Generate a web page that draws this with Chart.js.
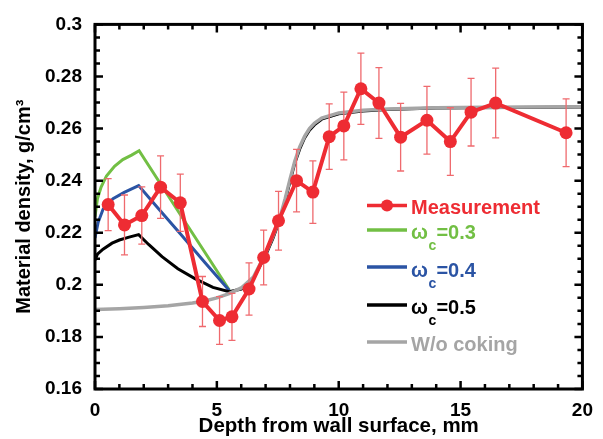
<!DOCTYPE html>
<html><head><meta charset="utf-8">
<script src="https://cdn.jsdelivr.net/npm/chart.js@4/dist/chart.umd.min.js"></script>
<style>html,body{margin:0;padding:0;background:#fff}canvas{display:block}</style>
</head><body>
<canvas id="c" width="603" height="439"></canvas>
<script>
// ---- data ----
const measDepth   = [0.54,1.21,1.92,2.69,3.5,4.41,5.11,5.62,6.32,6.92,7.53,8.27,8.94,9.61,10.21,10.91,11.65,12.54,13.62,14.58,15.43,16.44,19.33];
const measDensity = [0.2308,0.2230,0.2266,0.2375,0.2315,0.1936,0.1863,0.1877,0.1984,0.2105,0.2246,0.2400,0.2356,0.2569,0.2610,0.2753,0.2698,0.2567,0.2632,0.2550,0.2663,0.2698,0.2584];
const measError   = [0.010,0.0115,0.011,0.012,0.011,0.0096,0.0092,0.009,0.010,0.0105,0.0113,0.012,0.012,0.0126,0.013,0.0137,0.0136,0.013,0.013,0.013,0.013,0.0134,0.013];

const w03Depth   = [0,0.1,0.25,0.47,0.8,1.14,1.5,1.81,2.5,3.5,4.5,5.51];
const w03Density = [0.2262,0.2330,0.2375,0.2418,0.2455,0.2481,0.2498,0.2515,0.2415,0.2270,0.2126,0.1980];

const w04Depth   = [0,0.13,0.33,0.74,1.2,1.79,2.5,3.5,4.5,5.51];
const w04Density = [0.2180,0.2240,0.2290,0.2331,0.2355,0.2381,0.2304,0.2196,0.2087,0.1978];

const w05Depth   = [0,0.1,0.33,0.7,1.0,1.4,1.79,2.2,2.75,3.4,4.1,4.84,5.51,6.0,6.5,7.0,7.3,7.6,7.8,8.0,8.2,8.4,8.6,8.8,9.0,9.3,10,11,12,14,20];
const w05Density = [0.2095,0.2118,0.2137,0.2160,0.2172,0.2183,0.2193,0.2155,0.2108,0.2062,0.2024,0.1990,0.1974,0.1984,0.2025,0.2113,0.2178,0.2255,0.2322,0.2396,0.2468,0.2522,0.2564,0.2594,0.2614,0.2636,0.2657,0.2667,0.2673,0.2679,0.2683];

const noCokeDepth   = [0,1,2,3,4,4.5,5,5.5,6,6.5,7,7.3,7.6,7.8,8,8.2,8.4,8.6,8.8,9.0,9.3,10,11,12,14,16,18,20];
const noCokeDensity = [0.1905,0.1908,0.1913,0.1920,0.1930,0.1938,0.1950,0.1966,0.1988,0.2030,0.2120,0.2185,0.2262,0.2330,0.2405,0.2475,0.2530,0.2570,0.2600,0.2620,0.2640,0.2660,0.2670,0.2675,0.2680,0.2682,0.2683,0.2684];

const xTicks = [0,5,10,15,20];
const yTicks = [0.16,0.18,0.2,0.22,0.24,0.26,0.28,0.3];

const seriesNames = ['Measurement','ωc=0.3','ωc=0.4','ωc=0.5','W/o coking'];
const RED='#EE2C33', GREEN='#72BF44', BLUE='#2B54A4', BLACK='#000000', GREY='#A5A5A5';

const FONT = '"Liberation Sans", Arial, sans-serif';
Chart.defaults.font.family = FONT;
Chart.defaults.color = '#000';

const pts = (xs, ys) => xs.map((x,i)=>({x, y: ys[i]}));

const errorBars = {
  id:'errorBars',
  beforeDatasetDraw(chart, args){
    if (args.index !== 0) return;
    const {ctx, scales:{x, y}} = chart;
    ctx.save();
    ctx.strokeStyle = '#EF6A6E';
    ctx.lineWidth = 1.3;
    measDepth.forEach((d,i)=>{
      const px = x.getPixelForValue(d);
      const t = y.getPixelForValue(measDensity[i] + measError[i]);
      const b = y.getPixelForValue(measDensity[i] - measError[i]);
      ctx.beginPath();
      ctx.moveTo(px, t); ctx.lineTo(px, b);
      ctx.moveTo(px-3.5, t); ctx.lineTo(px+3.5, t);
      ctx.moveTo(px-3.5, b); ctx.lineTo(px+3.5, b);
      ctx.stroke();
    });
    ctx.restore();
  }
};

const frameTicks = {
  id:'frameTicks',
  afterDraw(chart){
    const {ctx, chartArea:a, scales:{x, y}} = chart;
    ctx.save();
    ctx.strokeStyle = '#000';
    ctx.lineWidth = 2.5;
    ctx.beginPath();
    for (let v = 0; v <= 20; v += 1) {
      const px = x.getPixelForValue(v);
      const L = (v % 5 === 0) ? 8 : 5;
      ctx.moveTo(px, a.bottom); ctx.lineTo(px, a.bottom - L);
      ctx.moveTo(px, a.top); ctx.lineTo(px, a.top + L);
    }
    for (let k = 0; k <= 28; k++) {
      const v = 0.16 + k * 0.005;
      const py = y.getPixelForValue(v);
      const L = (k % 4 === 0) ? 8 : 5;
      ctx.moveTo(a.left, py); ctx.lineTo(a.left + L, py);
      ctx.moveTo(a.right, py); ctx.lineTo(a.right - L, py);
    }
    ctx.stroke();
    ctx.lineWidth = 3;
    ctx.strokeRect(a.left, a.top, a.right - a.left, a.bottom - a.top);
    ctx.restore();
  }
};

const customLegend = {
  id:'customLegend',
  afterDraw(chart){
    const ctx = chart.ctx;
    ctx.save();
    const x0 = 367, x1 = 407, tx = 411;
    const rows = [
      {c:RED, ly:205.5, by:213.5, main:'Measurement', marker:true},
      {c:GREEN, ly:230, by:238.5, sub:'=0.3'},
      {c:BLUE, ly:267, by:276.5, sub:'=0.4'},
      {c:BLACK, ly:305, by:313.5, sub:'=0.5'},
      {c:GREY, ly:342, by:350.5, main:'W/o coking'}
    ];
    rows.forEach(r=>{
      ctx.strokeStyle = r.c; ctx.lineWidth = 3.5;
      ctx.beginPath(); ctx.moveTo(x0, r.ly); ctx.lineTo(x1, r.ly); ctx.stroke();
      if (r.marker){
        ctx.fillStyle = r.c; ctx.beginPath(); ctx.arc((x0+x1)/2, r.ly, 6, 0, Math.PI*2); ctx.fill();
      }
      ctx.fillStyle = r.c; ctx.textBaseline = 'alphabetic'; ctx.textAlign = 'left';
      if (r.main){
        ctx.font = 'bold 20px ' + FONT;
        ctx.fillText(r.main, tx, r.by);
      } else {
        ctx.font = 'bold 20px ' + FONT;
        ctx.fillText('ω', tx, r.by);
        const w = ctx.measureText('ω').width;
        ctx.font = 'bold 14px ' + FONT;
        ctx.fillText('c', tx + w + 0.5, r.by + 11.5);
        ctx.font = 'bold 20px ' + FONT;
        ctx.fillText(r.sub, tx + w + 8.5, r.by);
      }
    });
    ctx.restore();
  }
};

new Chart(document.getElementById('c'), {
  type:'scatter',
  data:{
    datasets:[
      {label:seriesNames[0], data:pts(measDepth, measDensity), showLine:true, borderColor:RED, backgroundColor:RED,
       borderWidth:4, pointRadius:6.5, pointBorderWidth:0, pointBackgroundColor:RED, order:0},
      {label:seriesNames[4], data:pts(noCokeDepth, noCokeDensity), showLine:true, borderColor:GREY, borderWidth:3.5,
       pointRadius:0, tension:0, order:1},
      {label:seriesNames[3], data:pts(w05Depth, w05Density), showLine:true, borderColor:BLACK, borderWidth:3,
       pointRadius:0, tension:0, order:2},
      {label:seriesNames[2], data:pts(w04Depth, w04Density), showLine:true, borderColor:BLUE, borderWidth:3,
       pointRadius:0, tension:0, order:3},
      {label:seriesNames[1], data:pts(w03Depth, w03Density), showLine:true, borderColor:GREEN, borderWidth:3,
       pointRadius:0, tension:0, order:4}
    ]
  },
  options:{
    responsive:false, animation:false, devicePixelRatio:1,
    layout:{padding:{top:17, right:12, left:0, bottom:0}},
    plugins:{legend:{display:false}, tooltip:{enabled:false}},
    scales:{
      x:{type:'linear', min:0, max:20,
        afterBuildTicks(s){ s.ticks = xTicks.map(v=>({value:v})); },
        afterFit(s){ s.height = 50; },
        grid:{display:false, drawTicks:false, tickLength:0},
        border:{display:false},
        ticks:{padding:10, font:{size:19, weight:'bold'}, color:'#000', maxRotation:0, callback:v=>String(v)},
        title:{display:true, text:'Depth from wall surface, mm', font:{size:20.5, weight:'bold'}, color:'#000', padding:{top:0,bottom:0}}
      },
      y:{type:'linear', min:0.16, max:0.3,
        afterBuildTicks(s){ s.ticks = yTicks.map(v=>({value:v})); },
        afterFit(s){ s.width = 95; },
        grid:{display:false, drawTicks:false, tickLength:0},
        border:{display:false},
        ticks:{padding:13, font:{size:19, weight:'bold'}, color:'#000', callback:v=>String(Number(v.toFixed(2)))},
        title:{display:true, text:'Material density, g/cm³', font:{size:20, weight:'bold'}, color:'#000', padding:{top:12,bottom:0}}
      }
    }
  },
  plugins:[errorBars, frameTicks, customLegend]
});
</script>
</body></html>
